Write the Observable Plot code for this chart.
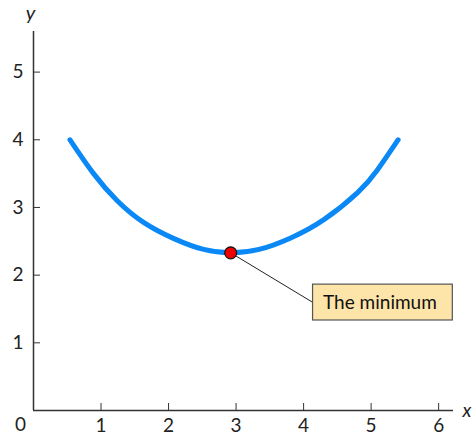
<!DOCTYPE html>
<html>
<head>
<meta charset="utf-8">
<script src="https://cdn.jsdelivr.net/npm/d3@7"></script>
<script src="https://cdn.jsdelivr.net/npm/@observablehq/plot@0.6"></script>
<style>
  html, body { margin: 0; padding: 0; background: #fff; }
  #chart svg { display: block; }
</style>
</head>
<body>
<div id="chart"></div>
<script>
// Curve points
const curveX = [0.54, 0.89, 1.24, 1.63, 2.08, 2.52, 2.92, 3.34, 3.81, 4.30, 4.80, 5.09, 5.40];
const curveY = [4.00, 3.50, 3.10, 2.78, 2.54, 2.38, 2.33, 2.38, 2.55, 2.82, 3.22, 3.55, 4.00];

// Minimum point
const minX = [2.92];
const minY = [2.33];

// Annotation box (data coordinates)
const labelText = ["The minimum"];
const boxX1 = [4.14], boxX2 = [6.21], boxY1 = [1.33], boxY2 = [1.86];

// Ticks
const xTicks = [1, 2, 3, 4, 5, 6];
const yTicks = [1, 2, 3, 4, 5];

const curve = curveX.map((x, i) => ({x, y: curveY[i]}));
const minPt = minX.map((x, i) => ({x, y: minY[i]}));
const box = labelText.map((t, i) => ({t, x1: boxX1[i], x2: boxX2[i], y1: boxY1[i], y2: boxY2[i], ym: (boxY1[i] + boxY2[i]) / 2}));
const link = minPt.map((p, i) => ({x1: p.x, y1: p.y, x2: box[i].x1, y2: box[i].ym}));

const font = "Lato, 'Noto Sans', sans-serif";
const axisColor = "#333";

const chart = Plot.plot({
  width: 473,
  height: 436,
  marginLeft: 33,
  marginRight: 20,
  marginTop: 31,
  marginBottom: 26,
  style: {fontFamily: font, fontSize: "19px", color: "#222", background: "#fff", overflow: "visible"},
  x: {domain: [0, 6.22]},
  y: {domain: [0, 5.6]},
  marks: [
    Plot.ruleY([0], {stroke: axisColor, strokeWidth: 1.5}),
    Plot.ruleX([0], {stroke: axisColor, strokeWidth: 1.5}),
    Plot.axisX({ticks: xTicks, tickSize: -7, tickPadding: 15, tickFormat: d => String(d), stroke: axisColor, fill: "#222", fontSize: 19, label: null}),
    Plot.axisY({ticks: yTicks, tickSize: -7, tickPadding: 17, tickFormat: d => String(d), stroke: axisColor, fill: "#222", fontSize: 19, label: null}),
    Plot.text(["0"], {frameAnchor: "bottom-left", textAnchor: "middle", lineAnchor: "middle", dx: -13, dy: 14, fontSize: 19, fill: "#222", text: d => d}),
    Plot.text(["y"], {frameAnchor: "top-left", textAnchor: "middle", lineAnchor: "middle", dx: -3, dy: -18, fontSize: 20, fontStyle: "italic", fill: "#222", text: d => d}),
    Plot.text(["x"], {frameAnchor: "bottom-right", textAnchor: "start", lineAnchor: "middle", dx: 9, dy: 0, fontSize: 19, fontStyle: "italic", fill: "#222", text: d => d}),
    Plot.line(curve, {x: "x", y: "y", stroke: "#0a88f5", strokeWidth: 5, curve: "natural"}),
    Plot.link(link, {x1: "x1", y1: "y1", x2: "x2", y2: "y2", stroke: "#222", strokeWidth: 1}),
    Plot.rect(box, {x1: "x1", x2: "x2", y1: "y1", y2: "y2", fill: "#fde4a9", stroke: "#555", strokeWidth: 1.2}),
    Plot.text(box, {x: "x1", y: "ym", text: "t", textAnchor: "start", lineAnchor: "middle", dx: 10, fontSize: 19, fill: "#111"}),
    Plot.dot(minPt, {x: "x", y: "y", r: 6, fill: "#ee0000", stroke: "#111", strokeWidth: 1.2})
  ]
});
document.getElementById("chart").appendChild(chart);
</script>
</body>
</html>
